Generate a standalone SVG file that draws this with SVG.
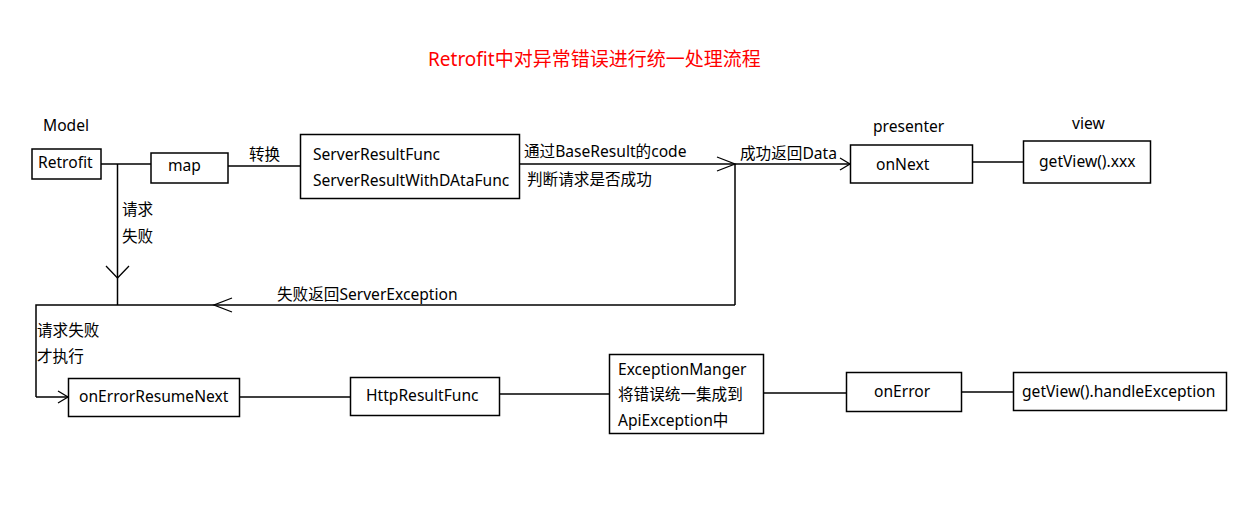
<svg xmlns="http://www.w3.org/2000/svg" width="1242" height="515" viewBox="0 0 1242 515">
<style>
text{font-family:"Noto Sans","Noto Sans CJK SC",sans-serif;font-size:15.6px;fill:#000}
.title{font-size:19px;fill:#ff0000}
.box{fill:#fff;stroke:#000;stroke-width:1.5}
.ln{fill:none;stroke:#000;stroke-width:1.5}
</style>
<defs>
<marker id="arr" markerUnits="userSpaceOnUse" markerWidth="24" markerHeight="24" refX="20" refY="12" orient="auto" overflow="visible">
<path d="M10,6 L20,12 L10,18" fill="none" stroke="#000" stroke-width="1.3"/>
</marker>
<marker id="arrL" markerUnits="userSpaceOnUse" markerWidth="24" markerHeight="24" refX="20" refY="12" orient="auto" overflow="visible">
<path d="M2,5 L20,12 L2,19" fill="none" stroke="#000" stroke-width="1.3"/>
</marker>
<marker id="arrW" markerUnits="userSpaceOnUse" markerWidth="24" markerHeight="24" refX="20" refY="12" orient="auto" overflow="visible">
<path d="M8,0.5 L20,12 L8,23.5" fill="none" stroke="#000" stroke-width="1.3"/>
</marker>
</defs>
<rect width="1242" height="515" fill="#fff"/>
<text class="title" x="428" y="66">Retrofit中对异常错误进行统一处理流程</text>

<g id="labels">
<text x="43" y="131">Model</text>
<text x="873" y="132">presenter</text>
<text x="1072" y="129">view</text>
</g>

<g id="connectors">
<line class="ln" x1="101" y1="164" x2="151" y2="164"/>
<line class="ln" x1="228" y1="166" x2="300" y2="166"/>
<line class="ln" x1="117.5" y1="164" x2="117.5" y2="278" marker-end="url(#arrW)"/>
<line class="ln" x1="117.5" y1="278" x2="117.5" y2="305"/>
<line class="ln" x1="519" y1="164" x2="735" y2="164" marker-end="url(#arrL)"/>
<line class="ln" x1="735" y1="164" x2="850" y2="164" marker-end="url(#arr)"/>
<line class="ln" x1="735" y1="164" x2="735" y2="305"/>
<line class="ln" x1="735" y1="305" x2="214" y2="305" marker-end="url(#arrL)"/>
<polyline class="ln" points="214,305 36,305 36,397"/>
<line class="ln" x1="36" y1="397" x2="68" y2="397" marker-end="url(#arr)"/>
<line class="ln" x1="972" y1="162" x2="1023" y2="162"/>
<line class="ln" x1="239" y1="397" x2="350" y2="397"/>
<line class="ln" x1="499" y1="394" x2="609" y2="394"/>
<line class="ln" x1="763" y1="393" x2="846" y2="393"/>
<line class="ln" x1="962" y1="392" x2="1013" y2="392"/>
<text x="249" y="160">转换</text>
<text x="122" y="215">请求</text>
<text x="122" y="242">失败</text>
<text x="524" y="157">通过BaseResult的code</text>
<text x="527" y="185">判断请求是否成功</text>
<text x="740" y="159">成功返回Data</text>
<text x="277" y="300">失败返回ServerException</text>
<text x="37" y="336">请求失败</text>
<text x="37" y="362">才执行</text>
</g>

<g id="retrofit">
<rect class="box" x="32" y="149" width="69" height="30"/>
<text x="38" y="168">Retrofit</text>
</g>
<g id="map">
<rect class="box" x="151" y="153" width="77" height="30"/>
<text x="168" y="171">map</text>
</g>
<g id="serverResultFunc">
<rect class="box" x="300.5" y="134.5" width="219" height="64"/>
<text x="313" y="160">ServerResultFunc</text>
<text x="313" y="186">ServerResultWithDAtaFunc</text>
</g>
<g id="onNext">
<rect class="box" x="850.5" y="145" width="122" height="38"/>
<text x="876" y="170">onNext</text>
</g>
<g id="getViewXxx">
<rect class="box" x="1023.5" y="141" width="127" height="42"/>
<text x="1039" y="167">getView().xxx</text>
</g>
<g id="onErrorResumeNext">
<rect class="box" x="68.5" y="378.5" width="171" height="38"/>
<text x="79" y="402">onErrorResumeNext</text>
</g>
<g id="httpResultFunc">
<rect class="box" x="350.5" y="377.5" width="149" height="38"/>
<text x="366" y="401">HttpResultFunc</text>
</g>
<g id="exceptionManger">
<rect class="box" x="609.5" y="354.5" width="154" height="79"/>
<text x="618" y="375">ExceptionManger</text>
<text x="618" y="400">将错误统一集成到</text>
<text x="618" y="426">ApiException中</text>
</g>
<g id="onError">
<rect class="box" x="846.5" y="372.5" width="115" height="39"/>
<text x="874" y="397">onError</text>
</g>
<g id="handleException">
<rect class="box" x="1013.5" y="372.5" width="213" height="38"/>
<text x="1022" y="397">getView().handleException</text>
</g>
</svg>
